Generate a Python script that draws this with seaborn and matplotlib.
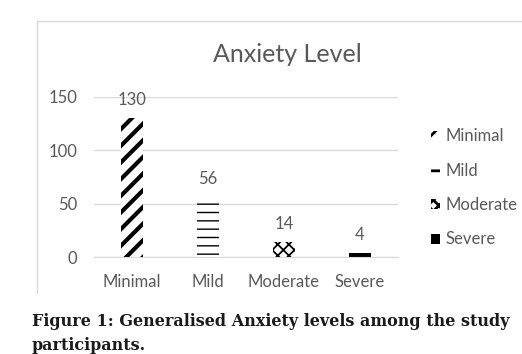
import matplotlib
matplotlib.use('Agg')
import matplotlib.pyplot as plt
import matplotlib.patches as mpatches
from matplotlib.lines import Line2D
import seaborn as sns
import pandas as pd

# values
levels = ['Minimal', 'Mild', 'Moderate', 'Severe']
counts = [130, 56, 14, 4]
hatches = ['//', '--', 'xxx', '']
hatch_lw = [3.0, 1.0, 1.3, 1.0]
fills = ['white', 'white', 'white', 'black']
yticks = [0, 50, 100, 150]

df = pd.DataFrame({'Level': levels, 'Count': counts})

sns.set_style('white')
plt.rcParams['font.family'] = ['Lato', 'DejaVu Sans']
plt.rcParams['hatch.linewidth'] = 2.0
grey = '#595959'

fig = plt.figure(figsize=(5.22, 3.54), dpi=100)
ax = fig.add_axes([0.180, 0.274, 0.582, 0.453])

sns.barplot(ax=ax, data=df, x='Level', y='Count', width=0.29,
            color='white', edgecolor='black', linewidth=0)
for bar, h, fc, hl in zip(ax.patches, hatches, fills, hatch_lw):
    bar.set_hatch(h)
    bar.set_facecolor(fc)
    bar.set_edgecolor('black')
    bar.set_linewidth(0)
    if hasattr(bar, 'set_hatch_linewidth'):
        bar.set_hatch_linewidth(hl)

ax.bar_label(ax.containers[0], labels=[str(c) for c in counts], padding=7,
             fontsize=12, color=grey)

ax.set_ylim(0, 150)
ax.set_yticks(yticks)
ax.set_xlabel('')
ax.set_ylabel('')
ax.grid(axis='y', color='#d9d9d9', linewidth=1)
ax.set_axisbelow(True)
for side in ['top', 'right', 'left']:
    ax.spines[side].set_visible(False)
ax.spines['bottom'].set_color('#d9d9d9')
ax.tick_params(axis='both', length=0, labelsize=12, labelcolor=grey)
ax.tick_params(axis='y', pad=12)
ax.tick_params(axis='x', pad=12)

fig.text(0.55, 1 - 55 / 354, 'Anxiety Level', ha='center', va='center',
         fontsize=18, color=grey)

handles = []
for h, fc, hl in zip(hatches, fills, hatch_lw):
    p = mpatches.Patch(facecolor=fc, edgecolor='black', hatch=h, linewidth=0)
    if hasattr(p, 'set_hatch_linewidth'):
        p.set_hatch_linewidth(hl)
    handles.append(p)
fig.legend(handles, levels, loc='upper left', bbox_to_anchor=(0.812, 0.656),
           frameon=False, fontsize=12, labelcolor=grey, handlelength=0.55,
           handleheight=0.55, handletextpad=0.35, labelspacing=1.1,
           borderaxespad=0)

# chart frame (left and top edges)
fig.add_artist(Line2D([37 / 522, 37 / 522], [1 - 293 / 354, 1 - 21 / 354],
                      color='#d9d9d9', linewidth=1))
fig.add_artist(Line2D([37 / 522, 1.0], [1 - 21 / 354, 1 - 21 / 354],
                      color='#d9d9d9', linewidth=1))

fig.text(32 / 522, 1 - 321 / 354,
         'Figure 1: Generalised Anxiety levels among the study',
         fontsize=11.5, fontweight='bold', family=['DejaVu Serif'],
         color='#1a1a1a', va='center')
fig.text(32 / 522, 1 - 345 / 354, 'participants.',
         fontsize=11.5, fontweight='bold', family=['DejaVu Serif'],
         color='#1a1a1a', va='center')

fig.savefig('out.png', dpi=100)
